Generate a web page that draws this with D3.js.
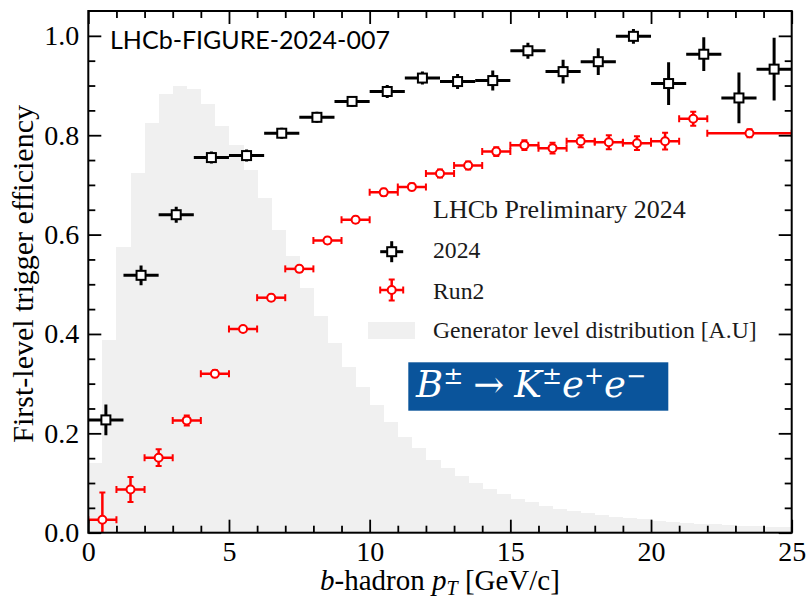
<!DOCTYPE html>
<html>
<head>
<meta charset="utf-8">
<script src="https://cdn.jsdelivr.net/npm/d3@7"></script>
<style>
  body { margin: 0; background: #fff; }
  svg { display: block; }
</style>
</head>
<body>
<svg id="chart" width="806" height="599"></svg>
<script>
// ---- 2024 trigger efficiency (1.25 GeV/c bins) ----
const edges2024 = [0, 1.25, 2.5, 3.75, 5, 6.25, 7.5, 8.75, 10, 11.25, 12.5,
                   13.75, 15, 16.25, 17.5, 18.75, 20, 21.25, 22.5, 23.75, 25];
const eff2024 = [0.227, 0.518, 0.640, 0.755, 0.759, 0.804, 0.836, 0.868, 0.888, 0.915,
                 0.908, 0.910, 0.970, 0.928, 0.948, 0.999, 0.904, 0.963, 0.875, 0.933];
const err2024 = [0.031, 0.020, 0.016, 0.012, 0.012, 0.011, 0.011, 0.011, 0.013, 0.013,
                 0.015, 0.020, 0.016, 0.024, 0.027, 0.015, 0.043, 0.034, 0.051, 0.063];

// ---- Run2 trigger efficiency (1 GeV/c bins, last bin 22-25) ----
const edgesRun2 = [0, 1, 2, 3, 4, 5, 6, 7, 8, 9, 10, 11, 12, 13, 14, 15, 16,
                   17, 18, 19, 20, 21, 22, 25];
const effRun2 = [0.026, 0.087, 0.151, 0.226, 0.320, 0.410, 0.473, 0.531, 0.588, 0.630,
                 0.685, 0.696, 0.723, 0.739, 0.767, 0.780, 0.774, 0.788, 0.786, 0.784,
                 0.788, 0.833, 0.804];
const errRun2 = [0.055, 0.025, 0.017, 0.010, 0.007, 0.006, 0.006, 0.006, 0.006, 0.006,
                 0.007, 0.007, 0.008, 0.008, 0.009, 0.010, 0.011, 0.012, 0.014, 0.014,
                 0.017, 0.014, 0.008];

// ---- Generator-level pT distribution, 0.5 GeV/c bins, arbitrary units ----
const histBinWidth = 0.5;
const genDist = [0.141, 0.387, 0.575, 0.724, 0.825, 0.882, 0.900, 0.893, 0.863, 0.819,
                 0.781, 0.729, 0.673, 0.610, 0.556, 0.492, 0.436, 0.381, 0.333, 0.294,
                 0.257, 0.222, 0.193, 0.170, 0.146, 0.130, 0.114, 0.101, 0.088, 0.077,
                 0.068, 0.061, 0.054, 0.048, 0.044, 0.039, 0.035, 0.032, 0.029, 0.027,
                 0.024, 0.022, 0.020, 0.018, 0.017, 0.015, 0.014, 0.013, 0.012, 0.011];

// ---- axis ticks ----
const xTicks = [0, 5, 10, 15, 20, 25];
const xTickLabels = ["0", "5", "10", "15", "20", "25"];
const yTicks = [0, 0.2, 0.4, 0.6, 0.8, 1.0];
const yTickLabels = ["0.0", "0.2", "0.4", "0.6", "0.8", "1.0"];

const legendTitle = "LHCb Preliminary 2024";
const legendLabels = ["2024", "Run2", "Generator level distribution [A.U]"];

// ---- layout ----
const plotL = 88.3, plotR = 791.7, plotT = 11, plotB = 532.7;
const serif = "'Liberation Serif', 'Times New Roman', serif";
const black = "#000", red = "#ff0000", histFill = "#f0f0f0";

const svg = d3.select("#chart");
const x = d3.scaleLinear().domain([0, 25]).range([plotL, plotR]);
const y = d3.scaleLinear().domain([0, 1.05]).range([plotB, plotT]);

svg.append("defs").append("clipPath").attr("id", "plotclip")
  .append("rect").attr("x", plotL).attr("y", plotT)
  .attr("width", plotR - plotL).attr("height", plotB - plotT);

const plot = svg.append("g").attr("clip-path", "url(#plotclip)");

// generator-level histogram
plot.append("g").selectAll("rect").data(genDist).join("rect")
  .attr("x", (d, i) => x(i * histBinWidth))
  .attr("width", (d, i) => x((i + 1) * histBinWidth) - x(i * histBinWidth) + 0.5)
  .attr("y", d => y(d))
  .attr("height", d => y(0) - y(d))
  .attr("fill", histFill)
  .attr("shape-rendering", "crispEdges");

// Run2 points: horizontal bin bars with caps, vertical error bars with caps, open circles
const run2 = effRun2.map((v, i) => ({ lo: edgesRun2[i], hi: edgesRun2[i + 1], v, e: errRun2[i] }));
const gR = plot.append("g").attr("stroke", red).attr("stroke-width", 2.5).attr("fill", "none");
run2.forEach(d => {
  const cx = x((d.lo + d.hi) / 2), cy = y(d.v);
  gR.append("line").attr("x1", x(d.lo)).attr("x2", x(d.hi)).attr("y1", cy).attr("y2", cy);
  gR.append("line").attr("x1", x(d.lo)).attr("x2", x(d.lo)).attr("y1", cy - 3.5).attr("y2", cy + 3.5).attr("stroke-width", 2);
  gR.append("line").attr("x1", x(d.hi)).attr("x2", x(d.hi)).attr("y1", cy - 3.5).attr("y2", cy + 3.5).attr("stroke-width", 2);
  gR.append("line").attr("x1", cx).attr("x2", cx).attr("y1", y(d.v - d.e)).attr("y2", y(d.v + d.e));
  gR.append("line").attr("x1", cx - 3).attr("x2", cx + 3).attr("y1", y(d.v + d.e)).attr("y2", y(d.v + d.e)).attr("stroke-width", 2);
  gR.append("line").attr("x1", cx - 3).attr("x2", cx + 3).attr("y1", y(d.v - d.e)).attr("y2", y(d.v - d.e)).attr("stroke-width", 2);
  gR.append("circle").attr("cx", cx).attr("cy", cy).attr("r", 4).attr("fill", "#fff").attr("stroke-width", 2);
});

// 2024 points: crosses with open squares
const d2024 = eff2024.map((v, i) => ({ lo: edges2024[i], hi: edges2024[i + 1], v, e: err2024[i] }));
const gB = plot.append("g").attr("stroke", black).attr("stroke-width", 3).attr("fill", "none");
d2024.forEach(d => {
  const cx = x((d.lo + d.hi) / 2), cy = y(d.v);
  gB.append("line").attr("x1", x(d.lo)).attr("x2", x(d.hi)).attr("y1", cy).attr("y2", cy);
  gB.append("line").attr("x1", cx).attr("x2", cx).attr("y1", y(d.v - d.e)).attr("y2", y(d.v + d.e));
  gB.append("rect").attr("x", cx - 4.5).attr("y", cy - 4.5).attr("width", 9).attr("height", 9)
    .attr("fill", "#fff").attr("stroke-width", 2);
});

// ---- axes: inward ticks on all four sides ----
const majorLen = 13, minorLen = 7;
const xMinor = d3.range(0, 26, 1).filter(v => v % 5 !== 0);
const yMinor = d3.range(0, 21, 1).map(k => k * 0.05).filter((v, k) => k % 4 !== 0);

function styleAxis(g) {
  g.select(".domain").remove();
  g.selectAll(".tick line").attr("stroke", black).attr("stroke-width", 1.8);
  g.selectAll("text").attr("font-family", serif).attr("font-size", 28).attr("fill", black);
}

svg.append("g").attr("transform", `translate(0,${plotB})`)
  .call(d3.axisBottom(x).tickValues(xTicks).tickFormat((d, i) => xTickLabels[i])
    .tickSizeInner(-majorLen).tickSizeOuter(0).tickPadding(8))
  .call(styleAxis);
svg.append("g").attr("transform", `translate(0,${plotB})`)
  .call(d3.axisBottom(x).tickValues(xMinor).tickFormat("").tickSizeInner(-minorLen).tickSizeOuter(0))
  .call(styleAxis);
svg.append("g").attr("transform", `translate(0,${plotT})`)
  .call(d3.axisTop(x).tickValues(xTicks).tickFormat("").tickSizeInner(-majorLen).tickSizeOuter(0))
  .call(styleAxis);
svg.append("g").attr("transform", `translate(0,${plotT})`)
  .call(d3.axisTop(x).tickValues(xMinor).tickFormat("").tickSizeInner(-minorLen).tickSizeOuter(0))
  .call(styleAxis);

svg.append("g").attr("transform", `translate(${plotL},0)`)
  .call(d3.axisLeft(y).tickValues(yTicks).tickFormat((d, i) => yTickLabels[i])
    .tickSizeInner(-majorLen).tickSizeOuter(0).tickPadding(9))
  .call(styleAxis);
svg.append("g").attr("transform", `translate(${plotL},0)`)
  .call(d3.axisLeft(y).tickValues(yMinor).tickFormat("").tickSizeInner(-minorLen).tickSizeOuter(0))
  .call(styleAxis);
svg.append("g").attr("transform", `translate(${plotR},0)`)
  .call(d3.axisRight(y).tickValues(yTicks).tickFormat("").tickSizeInner(-majorLen).tickSizeOuter(0))
  .call(styleAxis);
svg.append("g").attr("transform", `translate(${plotR},0)`)
  .call(d3.axisRight(y).tickValues(yMinor).tickFormat("").tickSizeInner(-minorLen).tickSizeOuter(0))
  .call(styleAxis);

// frame
svg.append("rect").attr("x", plotL).attr("y", plotT)
  .attr("width", plotR - plotL).attr("height", plotB - plotT)
  .attr("fill", "none").attr("stroke", black).attr("stroke-width", 2);

// axis titles
const xl = svg.append("text").attr("x", (plotL + plotR) / 2).attr("y", 590)
  .attr("text-anchor", "middle").attr("font-family", serif).attr("font-size", 29).attr("fill", black);
xl.append("tspan").attr("font-style", "italic").text("b");
xl.append("tspan").text("-hadron ");
xl.append("tspan").attr("font-style", "italic").text("p");
xl.append("tspan").attr("font-style", "italic").attr("font-size", 20).attr("dy", 5).text("T");
xl.append("tspan").attr("dy", -5).text(" [GeV/c]");

svg.append("text")
  .attr("transform", `translate(33,${(plotT + plotB) / 2 + 2}) rotate(-90)`)
  .attr("text-anchor", "middle").attr("font-family", serif).attr("font-size", 30).attr("fill", black)
  .text("First-level trigger efficiency");

// figure reference tag
svg.append("text").attr("x", 110).attr("y", 49)
  .attr("font-family", "Lato, 'Open Sans', sans-serif").attr("font-size", 25).attr("fill", black)
  .text("LHCb-FIGURE-2024-007");

// ---- legend ----
const lg = svg.append("g");
lg.append("text").attr("x", 433).attr("y", 218).attr("font-family", serif)
  .attr("font-size", 26).attr("fill", "#1a1a1a").text(legendTitle);

const mk = lg.append("g").attr("transform", "translate(391.7,251.7)");
mk.append("line").attr("x1", -11.5).attr("x2", 11.5).attr("stroke", black).attr("stroke-width", 3);
mk.append("line").attr("y1", -10.5).attr("y2", 10.5).attr("stroke", black).attr("stroke-width", 3);
mk.append("rect").attr("x", -4.5).attr("y", -4.5).attr("width", 9).attr("height", 9)
  .attr("fill", "#fff").attr("stroke", black).attr("stroke-width", 2);

const mr = lg.append("g").attr("transform", "translate(391.7,290)").attr("stroke", red);
mr.append("line").attr("x1", -11.5).attr("x2", 11.5).attr("stroke-width", 2.5);
mr.append("line").attr("y1", -10.5).attr("y2", 10.5).attr("stroke-width", 2.5);
mr.append("line").attr("x1", -11.5).attr("x2", -11.5).attr("y1", -3.5).attr("y2", 3.5).attr("stroke-width", 2);
mr.append("line").attr("x1", 11.5).attr("x2", 11.5).attr("y1", -3.5).attr("y2", 3.5).attr("stroke-width", 2);
mr.append("line").attr("x1", -3).attr("x2", 3).attr("y1", -10.5).attr("y2", -10.5).attr("stroke-width", 2);
mr.append("line").attr("x1", -3).attr("x2", 3).attr("y1", 10.5).attr("y2", 10.5).attr("stroke-width", 2);
mr.append("circle").attr("r", 4).attr("fill", "#fff").attr("stroke-width", 2);

lg.append("rect").attr("x", 368).attr("y", 322).attr("width", 47).attr("height", 17).attr("fill", histFill);

[258, 299, 338].forEach((by, i) => {
  lg.append("text").attr("x", 433).attr("y", by).attr("font-family", serif)
    .attr("font-size", 23.7).attr("fill", "#1a1a1a").text(legendLabels[i]);
});

// ---- decay channel label: B± → K± e+ e− ----
svg.append("rect").attr("x", 408.3).attr("y", 362.3).attr("width", 260).attr("height", 48.4)
  .attr("fill", "#0a549b");
const dc = svg.append("text").attr("x", 416).attr("y", 397)
  .attr("font-family", "'DejaVu Serif', serif").attr("font-size", 37).attr("fill", "#fff");
const supShift = 13;
dc.append("tspan").attr("font-style", "italic").text("B");
dc.append("tspan").attr("font-size", 24).attr("dy", -supShift).text("±");
dc.append("tspan").attr("dx", 10).attr("dy", supShift).text("→");
dc.append("tspan").attr("dx", 10).attr("font-style", "italic").text("K");
dc.append("tspan").attr("font-size", 24).attr("dy", -supShift).text("±");
dc.append("tspan").attr("font-style", "italic").attr("dy", supShift).text("e");
dc.append("tspan").attr("font-size", 24).attr("dy", -supShift).text("+");
dc.append("tspan").attr("font-style", "italic").attr("dy", supShift).text("e");
dc.append("tspan").attr("font-size", 24).attr("dy", -supShift).text("−");
</script>
</body>
</html>
